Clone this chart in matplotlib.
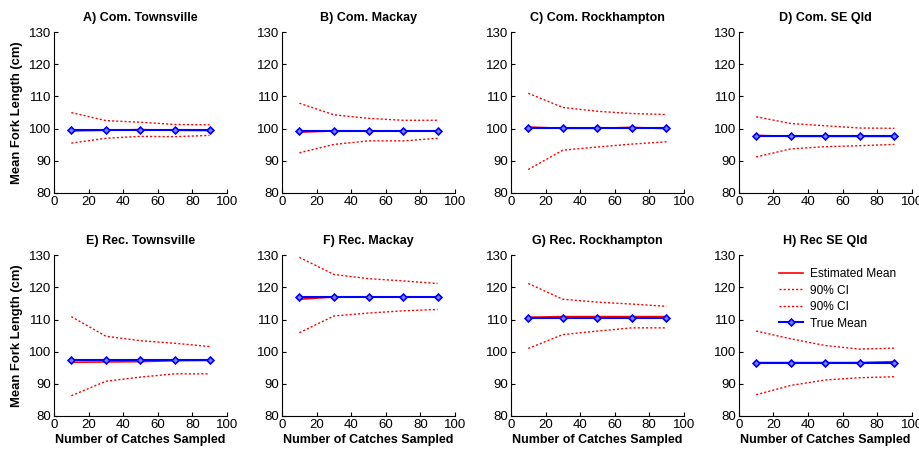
import matplotlib
matplotlib.use("Agg")
import matplotlib.pyplot as plt

plt.rcParams['font.family'] = ['Liberation Sans', 'DejaVu Sans']

n_sampled = [10, 30, 50, 70, 90]

titles = ["A) Com. Townsville", "B) Com. Mackay", "C) Com. Rockhampton", "D) Com. SE Qld",
          "E) Rec. Townsville", "F) Rec. Mackay", "G) Rec. Rockhampton", "H) Rec SE Qld"]

est_mean = [
    [99.3, 99.5, 99.7, 99.5, 99.4],
    [98.9, 99.3, 99.3, 99.3, 99.3],
    [100.5, 100.1, 100.1, 100.4, 100.0],
    [97.9, 97.6, 97.6, 97.6, 97.6],
    [96.7, 96.8, 96.9, 97.2, 97.3],
    [116.3, 117.0, 117.0, 117.0, 117.0],
    [110.7, 110.9, 110.9, 110.9, 110.9],
    [96.6, 96.6, 96.6, 96.6, 96.9],
]
ci_upper = [
    [105.0, 102.5, 102.0, 101.3, 101.2],
    [107.9, 104.3, 103.2, 102.6, 102.6],
    [111.0, 106.6, 105.4, 104.7, 104.4],
    [103.7, 101.6, 100.9, 100.2, 100.1],
    [110.9, 104.8, 103.4, 102.6, 101.6],
    [129.3, 124.0, 122.7, 122.0, 121.2],
    [121.2, 116.3, 115.4, 114.8, 114.1],
    [106.4, 104.0, 101.9, 100.8, 101.1],
]
ci_lower = [
    [95.5, 97.0, 97.6, 97.5, 97.9],
    [92.5, 95.1, 96.2, 96.2, 97.0],
    [87.3, 93.3, 94.3, 95.2, 95.9],
    [91.2, 93.7, 94.4, 94.7, 95.1],
    [86.3, 90.8, 92.1, 93.1, 93.1],
    [105.9, 111.1, 112.0, 112.7, 113.1],
    [101.0, 105.3, 106.4, 107.4, 107.4],
    [86.6, 89.5, 91.2, 91.9, 92.2],
]
true_mean = [99.7, 99.4, 100.1, 97.6, 97.3, 117.0, 110.6, 96.6]

fig = plt.figure(figsize=(9.19, 4.53), dpi=100)
lefts = [0.0588, 0.307, 0.556, 0.804]
bottoms = [0.574, 0.0817]
w, h = 0.188, 0.355

for i in range(8):
    r, c = divmod(i, 4)
    ax = fig.add_axes([lefts[c], bottoms[r], w, h])
    ax.plot(n_sampled, est_mean[i], color='#ff0000', lw=1.2, label='Estimated Mean')
    ax.plot(n_sampled, ci_upper[i], color='#ff0000', lw=1.0, ls=(0, (1.5, 1.5)), label='90% CI')
    ax.plot(n_sampled, ci_lower[i], color='#ff0000', lw=1.0, ls=(0, (1.5, 1.5)), label='90% CI')
    ax.plot(n_sampled, [true_mean[i]] * len(n_sampled), color='#0000ff', lw=1.5,
            marker='D', ms=3.5, mfc='#8080ff', mec='#0000ff', mew=1.2, label='True Mean')
    ax.set_xlim(0, 100)
    ax.set_ylim(80, 130)
    ax.set_xticks([0, 20, 40, 60, 80, 100])
    ax.set_yticks([80, 90, 100, 110, 120, 130])
    ax.spines['top'].set_visible(False)
    ax.spines['right'].set_visible(False)
    ax.tick_params(direction='in', length=3, labelsize=9.5, pad=2)
    ax.set_title(titles[i], fontsize=9, fontweight='bold', pad=8)
    if c == 0:
        ax.set_ylabel('Mean Fork Length (cm)', fontsize=9.4, fontweight='bold')
    if r == 1:
        ax.set_xlabel('Number of Catches Sampled', fontsize=9, fontweight='bold', labelpad=2)
    if i == 7:
        ax.legend(loc='upper right', frameon=False, fontsize=8.6, handlelength=2.0,
                  handletextpad=0.6, borderaxespad=0.2, labelspacing=0.38,
                  bbox_to_anchor=(0.95, 0.965))

fig.savefig('out.png', dpi=100)
